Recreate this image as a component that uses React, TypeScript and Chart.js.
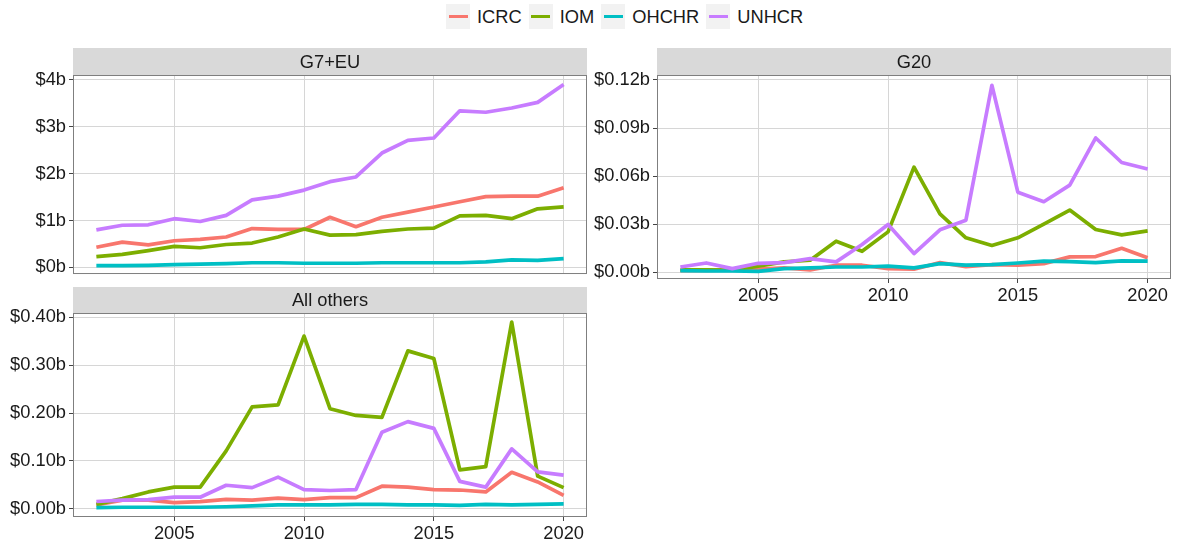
import React, { useEffect, useRef } from 'react';
import { Chart, registerables } from 'chart.js';
Chart.register(...registerables);

const years = [2002, 2003, 2004, 2005, 2006, 2007, 2008, 2009, 2010, 2011, 2012, 2013, 2014, 2015, 2016, 2017, 2018, 2019, 2020];
const seriesNames = ['ICRC', 'IOM', 'OHCHR', 'UNHCR'];
const seriesColors = ['#F8766D', '#7CAE00', '#00BFC4', '#C77CFF'];

// G7+EU (billions USD)
const g7ICRC = [0.43, 0.54, 0.48, 0.57, 0.60, 0.65, 0.83, 0.81, 0.81, 1.07, 0.87, 1.07, 1.18, 1.29, 1.40, 1.51, 1.52, 1.52, 1.70];
const g7IOM = [0.23, 0.28, 0.36, 0.45, 0.42, 0.49, 0.52, 0.65, 0.82, 0.69, 0.70, 0.77, 0.82, 0.84, 1.10, 1.11, 1.04, 1.25, 1.29];
const g7OHCHR = [0.04, 0.04, 0.045, 0.06, 0.07, 0.08, 0.10, 0.10, 0.09, 0.09, 0.09, 0.10, 0.10, 0.10, 0.10, 0.12, 0.16, 0.15, 0.19];
const g7UNHCR = [0.80, 0.90, 0.91, 1.04, 0.98, 1.11, 1.44, 1.52, 1.65, 1.83, 1.93, 2.44, 2.71, 2.76, 3.34, 3.31, 3.40, 3.52, 3.90];

// G20
const g20ICRC = [0.0010, 0.0012, 0.0015, 0.0020, 0.0027, 0.0015, 0.0044, 0.0044, 0.0023, 0.0019, 0.0060, 0.0035, 0.0048, 0.0044, 0.0054, 0.0096, 0.0098, 0.0150, 0.0090];
const g20IOM = [0.0015, 0.0015, 0.0013, 0.0038, 0.0065, 0.0075, 0.0194, 0.0131, 0.0252, 0.0656, 0.0365, 0.0215, 0.0167, 0.0215, 0.0300, 0.0388, 0.0267, 0.0233, 0.0258];
const g20OHCHR = [0.0010, 0.0008, 0.0008, 0.0006, 0.0023, 0.0027, 0.0033, 0.0033, 0.0038, 0.0027, 0.0054, 0.0044, 0.0048, 0.0058, 0.0069, 0.0067, 0.0060, 0.0071, 0.0069];
const g20UNHCR = [0.0033, 0.0058, 0.0023, 0.0056, 0.0060, 0.0085, 0.0065, 0.0173, 0.0298, 0.0117, 0.0265, 0.0325, 0.1167, 0.0500, 0.0440, 0.0544, 0.0838, 0.0685, 0.0644];

// All others
const othICRC = [0.008, 0.018, 0.018, 0.0125, 0.0146, 0.0195, 0.018, 0.022, 0.019, 0.023, 0.023, 0.047, 0.045, 0.040, 0.039, 0.035, 0.076, 0.056, 0.028];
const othIOM = [0.009, 0.021, 0.035, 0.045, 0.045, 0.121, 0.213, 0.217, 0.361, 0.209, 0.195, 0.191, 0.330, 0.314, 0.081, 0.088, 0.390, 0.068, 0.044];
const othOHCHR = [0.002, 0.003, 0.003, 0.003, 0.003, 0.004, 0.006, 0.008, 0.008, 0.008, 0.009, 0.009, 0.008, 0.008, 0.007, 0.009, 0.008, 0.009, 0.010];
const othUNHCR = [0.015, 0.018, 0.019, 0.024, 0.024, 0.049, 0.044, 0.066, 0.040, 0.038, 0.040, 0.160, 0.182, 0.168, 0.057, 0.045, 0.125, 0.077, 0.070];

const xTicks = [2005, 2010, 2015, 2020];
const g7Ticks = [0, 1, 2, 3, 4];
const g20Ticks = [0, 0.03, 0.06, 0.09, 0.12];
const othTicks = [0, 0.1, 0.2, 0.3, 0.4];

const FONT = '"Liberation Sans", Arial, Helvetica, sans-serif';
const FONT_SIZE = 18.3;
const GRID = '#D6D6D6';
const TICK = '#444444';
const TEXT = '#1A1A1A';
const X_MIN = 2001.1;
const X_MAX = 2020.9;

Chart.defaults.font.family = FONT;

function stripPlugin(title: string, stripH: number) {
  return {
    id: 'strip',
    afterDraw(chart: any) {
      const { ctx, chartArea: a } = chart;
      ctx.save();
      ctx.fillStyle = '#D9D9D9';
      ctx.fillRect(a.left, a.top - stripH, a.right - a.left, stripH);
      ctx.fillStyle = TEXT;
      ctx.font = `${FONT_SIZE}px ${FONT}`;
      ctx.textAlign = 'center';
      ctx.textBaseline = 'middle';
      ctx.fillText(title, (a.left + a.right) / 2, a.top - stripH / 2 + 1);
      ctx.strokeStyle = '#7F7F7F';
      ctx.lineWidth = 1;
      ctx.strokeRect(a.left + 0.5, a.top + 0.5, a.right - a.left - 1, a.bottom - a.top - 1);
      ctx.restore();
    },
  };
}

type PanelProps = {
  title: string;
  series: number[][];
  yTicks: number[];
  yMin: number;
  yMax: number;
  decimals: number;
  showX: boolean;
  left: number;
  top: number;
  width: number;
  height: number;
  padTop: number;
  padRight: number;
  padBottom: number;
  yWidth: number;
  xHeight: number;
  stripH: number;
};

function Panel(p: PanelProps) {
  const ref = useRef<HTMLCanvasElement>(null);
  useEffect(() => {
    const chart = new Chart(ref.current as HTMLCanvasElement, {
      type: 'line',
      data: {
        datasets: seriesNames.map((name, i) => ({
          label: name,
          data: years.map((yr, j) => ({ x: yr, y: p.series[i][j] })),
          borderColor: seriesColors[i],
          backgroundColor: seriesColors[i],
          borderWidth: 3.7,
          pointRadius: 0,
          tension: 0,
          borderJoinStyle: 'round',
          fill: false,
          order: 4 - i,
        })),
      },
      options: {
        responsive: false,
        animation: false,
        devicePixelRatio: 1,
        layout: { padding: { top: p.padTop, right: p.padRight, bottom: p.padBottom, left: 0 } },
        plugins: { legend: { display: false }, tooltip: { enabled: false } },
        scales: {
          x: {
            type: 'linear',
            min: X_MIN,
            max: X_MAX,
            afterBuildTicks: (s: any) => {
              s.ticks = xTicks.map((v) => ({ value: v }));
            },
            afterFit: (s: any) => {
              s.height = p.xHeight;
            },
            grid: { color: GRID, lineWidth: 1, drawTicks: p.showX, tickLength: 4, tickColor: TICK },
            border: { display: false },
            ticks: {
              display: p.showX,
              padding: 2,
              color: TEXT,
              font: { size: FONT_SIZE },
              maxRotation: 0,
              autoSkip: false,
              callback: (v: any) => String(v),
            },
          },
          y: {
            type: 'linear',
            min: p.yMin,
            max: p.yMax,
            afterBuildTicks: (s: any) => {
              s.ticks = p.yTicks.map((v) => ({ value: v }));
            },
            afterFit: (s: any) => {
              s.width = p.yWidth;
            },
            grid: { color: GRID, lineWidth: 1, drawTicks: true, tickLength: 4, tickColor: TICK },
            border: { display: false },
            ticks: {
              padding: 3,
              color: TEXT,
              font: { size: FONT_SIZE },
              autoSkip: false,
              callback: (v: any) => '$' + Number(v).toFixed(p.decimals) + 'b',
            },
          },
        },
      },
      plugins: [stripPlugin(p.title, p.stripH)],
    } as any);
    return () => chart.destroy();
  }, []);
  return (
    <canvas
      ref={ref}
      width={p.width}
      height={p.height}
      style={{ position: 'absolute', left: p.left, top: p.top, width: p.width, height: p.height }}
    />
  );
}

function Legend() {
  return (
    <div
      style={{
        position: 'absolute',
        left: 446,
        top: 4,
        display: 'flex',
        alignItems: 'center',
        whiteSpace: 'nowrap',
        fontFamily: FONT,
        fontSize: FONT_SIZE,
        color: TEXT,
        gap: 7,
      }}
    >
      {seriesNames.map((name, i) => (
        <div key={name} style={{ display: 'flex', alignItems: 'center', gap: 7 }}>
          <div
            style={{
              width: 24,
              height: 25,
              background: '#F2F2F2',
              display: 'flex',
              alignItems: 'center',
              justifyContent: 'center',
            }}
          >
            <div style={{ width: 19, height: 3.7, background: seriesColors[i] }} />
          </div>
          <span style={{ lineHeight: '25px' }}>{name}</span>
        </div>
      ))}
    </div>
  );
}

export default function App() {
  return (
    <div style={{ position: 'fixed', left: 0, top: 0, width: 1177, height: 545, background: '#FFFFFF', overflow: 'hidden' }}>
      <Legend />
      <Panel
        title="G7+EU"
        series={[g7ICRC, g7IOM, g7OHCHR, g7UNHCR]}
        yTicks={g7Ticks}
        yMin={-0.14}
        yMax={4.104}
        decimals={0}
        showX={false}
        left={0}
        top={48}
        width={600}
        height={240}
        padTop={27}
        padRight={13}
        padBottom={9}
        yWidth={73}
        xHeight={0}
        stripH={27}
      />
      <Panel
        title="G20"
        series={[g20ICRC, g20IOM, g20OHCHR, g20UNHCR]}
        yTicks={g20Ticks}
        yMin={-0.0042}
        yMax={0.1231}
        decimals={2}
        showX={true}
        left={583}
        top={48}
        width={594}
        height={260}
        padTop={27}
        padRight={6}
        padBottom={0}
        yWidth={74}
        xHeight={29}
        stripH={27}
      />
      <Panel
        title="All others"
        series={[othICRC, othIOM, othOHCHR, othUNHCR]}
        yTicks={othTicks}
        yMin={-0.0174}
        yMax={0.4092}
        decimals={2}
        showX={true}
        left={0}
        top={287}
        width={600}
        height={258}
        padTop={26}
        padRight={13}
        padBottom={0}
        yWidth={73}
        xHeight={28}
        stripH={26}
      />
    </div>
  );
}
